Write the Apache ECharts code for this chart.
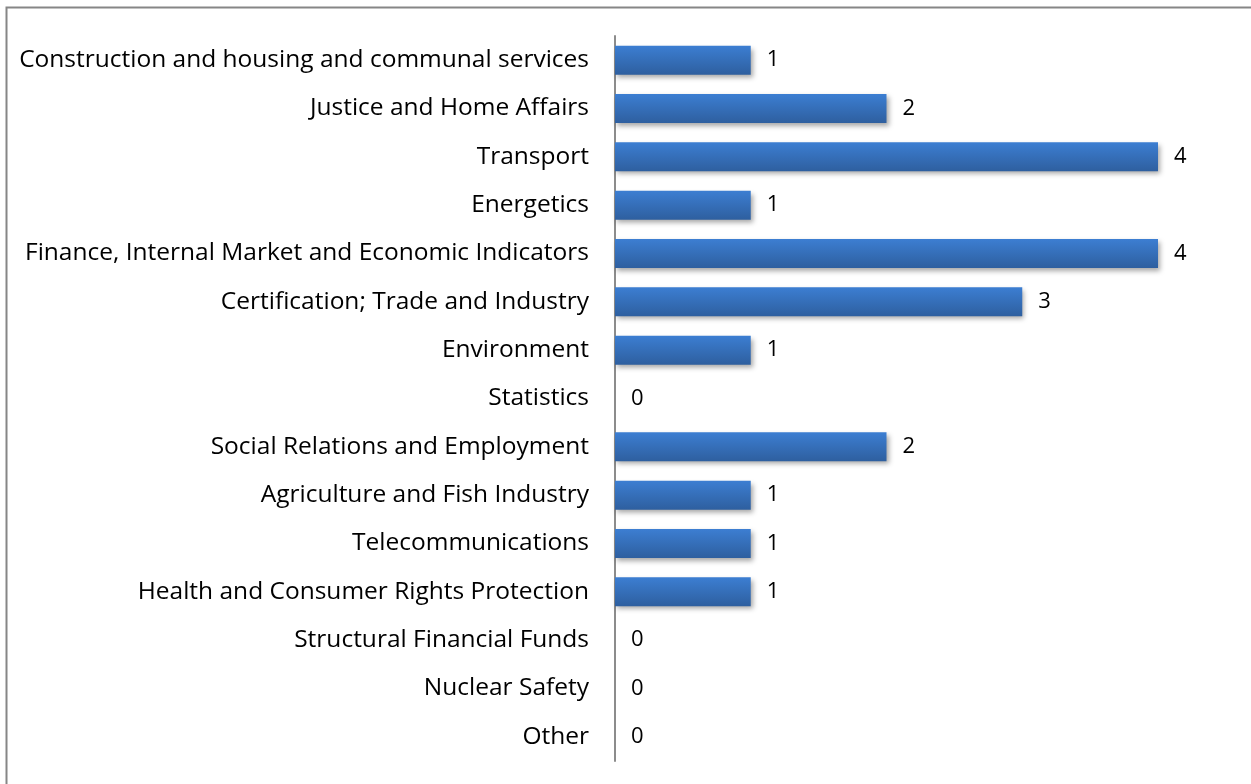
<!DOCTYPE html>
<html><head><meta charset="utf-8">
<style>html,body{margin:0;padding:0;background:#fff;}#c{width:1251px;height:784px;}</style>
<script src="https://cdn.jsdelivr.net/npm/echarts@6/dist/echarts.min.js"></script>
</head><body><div id="c"></div>
<script>
const categories = ["Construction and housing and communal services","Justice and Home Affairs","Transport","Energetics","Finance, Internal Market and Economic Indicators","Certification; Trade and Industry","Environment","Statistics","Social Relations and Employment","Agriculture and Fish Industry","Telecommunications","Health and Consumer Rights Protection","Structural Financial Funds","Nuclear Safety","Other"];
const values = [1,2,4,1,4,3,1,0,2,1,1,1,0,0,0];
const chart = echarts.init(document.getElementById('c'));
chart.setOption({
  animation:false,
  graphic:[{type:'rect',shape:{x:6.5,y:7.5,width:1300,height:900},style:{fill:'none',stroke:'#868686',lineWidth:2},silent:true}],
  grid:{left:615,top:36,bottom:23,right:93},
  xAxis:{type:'value',min:0,max:4,show:false},
  yAxis:{type:'category',data:categories,inverse:true,
    axisLine:{lineStyle:{color:'#8c8c8c',width:2}},axisTick:{show:false},
    axisLabel:{color:'#000',fontFamily:'Open Sans',fontSize:24.5,margin:26,padding:[8,0,0,0]}},
  series:[{type:'bar',data:values,barWidth:29,
    itemStyle:{color:new echarts.graphic.LinearGradient(0,0,0,1,[{offset:0,color:'#3c7ed2'},{offset:1,color:'#2e5f9f'}]),
      shadowColor:'rgba(0,0,0,0.35)',shadowBlur:5,shadowOffsetX:2,shadowOffsetY:3},
    label:{show:true,position:'right',distance:16,color:'#000',fontFamily:'Open Sans',fontSize:22,padding:[8,0,0,0]}}]
});
</script></body></html>
